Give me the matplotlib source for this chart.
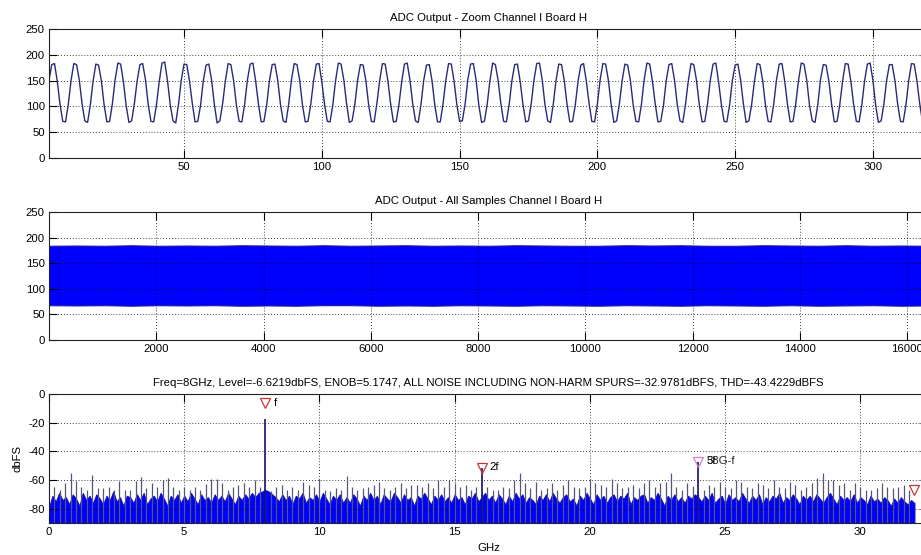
import matplotlib
matplotlib.use("Agg")
import matplotlib.pyplot as plt
import numpy as np

plt.rcParams['font.family'] = ['Liberation Sans', 'DejaVu Sans']
plt.rcParams['font.size'] = 8.2
plt.rcParams['axes.unicode_minus'] = False

# first 320 ADC codes, channel I board H (8 samples per period at 8 GHz / 64 GS/s)
zoom_codes = [
    151, 181, 183, 149, 104, 71, 70, 104,
    150, 183, 181, 151, 105, 72, 69, 103,
    149, 182, 180, 150, 103, 70, 71, 105,
    152, 184, 182, 148, 102, 69, 72, 106,
    150, 181, 183, 152, 104, 71, 70, 103,
    148, 184, 186, 150, 103, 72, 68, 104,
    151, 182, 181, 149, 106, 70, 71, 102,
    150, 180, 182, 151, 104, 68, 72, 105,
    149, 183, 181, 150, 103, 71, 70, 104,
    151, 182, 184, 149, 105, 70, 71, 103,
    150, 181, 182, 151, 104, 72, 69, 105,
    152, 183, 181, 150, 102, 70, 71, 104,
    149, 182, 183, 148, 104, 71, 70, 103,
    150, 184, 182, 151, 105, 69, 72, 104,
    151, 181, 180, 150, 103, 71, 70, 106,
    150, 183, 182, 149, 104, 70, 71, 103,
    148, 182, 184, 151, 105, 72, 69, 104,
    151, 180, 181, 150, 103, 70, 70, 105,
    150, 183, 182, 149, 104, 71, 72, 104,
    152, 182, 183, 151, 102, 69, 71, 103,
    149, 184, 181, 150, 105, 71, 70, 104,
    150, 181, 182, 148, 104, 70, 72, 105,
    151, 183, 184, 151, 103, 72, 69, 104,
    150, 182, 181, 150, 104, 70, 71, 103,
    149, 180, 183, 149, 106, 71, 70, 104,
    151, 183, 182, 151, 104, 69, 72, 105,
    150, 182, 180, 150, 103, 71, 70, 104,
    152, 184, 182, 149, 105, 70, 71, 102,
    150, 181, 183, 151, 104, 72, 69, 104,
    149, 183, 181, 150, 103, 70, 71, 105,
    151, 182, 184, 148, 104, 71, 70, 103,
    150, 180, 182, 151, 105, 69, 72, 104,
    148, 183, 181, 150, 103, 71, 70, 104,
    151, 182, 183, 149, 104, 70, 71, 105,
    150, 184, 182, 151, 102, 72, 69, 103,
    152, 181, 180, 150, 105, 70, 71, 104,
    149, 183, 182, 149, 104, 71, 70, 104,
    150, 182, 184, 151, 103, 69, 72, 105,
    151, 181, 181, 150, 104, 71, 70, 103,
    150, 183, 182, 149, 105, 70, 71, 104,
]

# min / max of all 16384 samples, per 512-sample block
all_hi = [184, 184.5, 184, 185, 184, 184.5, 184, 185, 184.5, 184, 185, 184, 184.5, 185, 184, 184.5, 184,
          185, 184.5, 184, 184, 185, 184.5, 185, 184, 184, 185, 184.5, 184, 185, 184, 184.5, 184]
all_lo = [68, 67.5, 68, 67, 68, 67.5, 68, 67, 67.5, 67, 68, 68, 67, 67.5, 67, 68, 67.5,
          67, 68, 67.5, 67, 68, 67.5, 67, 68, 67.5, 67, 68, 67, 67.5, 68, 67, 67.5]
block_len = 512

# spectrum: noise floor top every 0.125 GHz
floor_step = 0.125
floor_db = [
    -79, -71, -75, -69, -74, -72, -77, -70,
    -73, -78, -69, -74, -71, -76, -70, -73,
    -77, -71, -74, -68, -75, -72, -78, -71,
    -72, -76, -70, -74, -69, -77, -73, -71,
    -75, -69, -73, -78, -71, -74, -70, -76,
    -71, -75, -69, -73, -77, -70, -74, -72,
    -76, -70, -74, -71, -75, -69, -73, -77,
    -71, -74, -70, -73, -69, -72, -69, -68,
    -67, -68, -70, -72, -75, -70, -74, -71,
    -77, -71, -73, -69, -76, -72, -74, -70,
    -75, -69, -73, -77, -71, -74, -70, -76,
    -72, -76, -70, -73, -78, -71, -74, -69,
    -74, -71, -77, -70, -73, -75, -69, -72,
    -76, -70, -74, -72, -78, -71, -73, -69,
    -73, -77, -71, -74, -70, -75, -72, -76,
    -70, -74, -72, -77, -71, -73, -69, -75,
    -72, -69, -74, -71, -76, -70, -73, -77,
    -71, -75, -69, -73, -70, -76, -72, -74,
    -77, -71, -74, -70, -75, -69, -73, -76,
    -72, -70, -75, -73, -78, -71, -74, -69,
    -73, -77, -70, -74, -71, -76, -72, -70,
    -75, -71, -73, -69, -77, -72, -74, -71,
    -70, -76, -72, -74, -69, -73, -78, -71,
    -74, -70, -75, -72, -76, -71, -73, -70,
    -72, -75, -71, -74, -69, -76, -73, -71,
    -77, -70, -74, -72, -75, -69, -73, -76,
    -71, -74, -70, -77, -72, -75, -71, -73,
    -69, -76, -72, -74, -70, -73, -77, -71,
    -74, -71, -75, -70, -73, -76, -72, -69,
    -73, -77, -71, -74, -72, -75, -70, -76,
    -72, -74, -77, -71, -75, -73, -76, -72,
    -74, -78, -73, -76, -72, -75, -77, -74,
    -76,
]
# non-harmonic comb spurs every 0.2 GHz
spur_step = 0.2
spur_db = [
    -64.6, -67, -62.3, -55.3, -61, -64.6, -67, -56.5, -65.7, -65.7,
    -64.6, -67, -61, -67, -67, -61, -57.6, -65.7, -62.3, -64.6,
    -59.9, -58.8, -64.6, -67, -64.6, -67, -64.6, -67, -63, -59.5,
    -59.5, -62.3, -66.9, -64.6, -63.4, -62.3, -64.6, -59.9, -64.6, -70,
    -68, -64.6, -63.4, -66.9, -64.6, -66.9, -61.1, -63.4, -64.6, -59.5,
    -66.9, -68, -65.7, -66.9, -57.1, -64.6, -66.9, -65.7, -64.6, -63.4,
    -61.1, -65.7, -66.9, -64.6, -62.3, -65.7, -63.4, -63.4, -64.6, -62.3,
    -65.7, -59.9, -64.6, -59.9, -62.3, -64.6, -63.4, -66.9, -65, -70,
    -64.6, -66.9, -66.9, -64.6, -65.7, -59.9, -55.3, -62.3, -65.7, -61.1,
    -66.9, -65.7, -62.3, -66.9, -63.4, -59.9, -64.6, -65.7, -64.6, -59.5,
    -62.3, -63.4, -64.6, -59.5, -62.3, -65.7, -64.6, -63.4, -65.7, -62.3,
    -59.9, -64.6, -62.3, -61.1, -55.3, -64.6, -66.9, -62.3, -64, -70,
    -66.9, -63.4, -64.6, -61.1, -64.6, -65.7, -59.9, -61.1, -64.6, -65.7,
    -62.3, -63.4, -65.7, -59.9, -64.6, -65.7, -61.1, -63.4, -66.9, -64.6,
    -62.3, -58.8, -54.8, -59.9, -59.9, -63.4, -62.3, -66.9, -62.3, -64.6,
    -66.9, -66.9, -65.7, -62.3, -64.6, -65.7, -64.6, -63.4, -66.9,
]

# fundamental and harmonics (GHz, peak bin dBFS)
harm_ghz = [8, 16, 24]
harm_db = [-17.6, -51.5, -47.5]

# markers: label, GHz, dBFS, colour
mark_names = ['f', '2f', '3f', '']
mark_ghz = [8, 16, 24, 32]
mark_db = [-6.6219, -51.5, -47.5, -67]
mark_cols = ['#cc3333', '#cc3333', '#d77fd7', '#cc3333']

title_spec = ('Freq=8GHz, Level=-6.6219dbFS, ENOB=5.1747, ALL NOISE INCLUDING '
              'NON-HARM SPURS=-32.9781dBFS, THD=-43.4229dBFS')


def style(ax):
    ax.grid(True, color='k', linestyle=(0, (1, 2.5)), linewidth=0.6)
    ax.tick_params(direction='in', length=6, top=True, right=True, width=0.8,
                   labelsize=8.2, pad=3)
    for s in ax.spines.values():
        s.set_linewidth(0.8)
        s.set_color('#222222')


fig = plt.figure(figsize=(9.21, 5.55), dpi=100)
W = 921.0
H = 555.0
left = 49 / W
width = (928 - 49) / W

# zoomed samples
ax1 = fig.add_axes([left, 1 - 158 / H, width, 129 / H])
n = np.arange(1, len(zoom_codes) + 1)
ax1.plot(n, zoom_codes, color='#2a2a78', linewidth=1.0)
ax1.set_xlim(1, 320)
ax1.set_ylim(0, 250)
ax1.set_xticks([50, 100, 150, 200, 250, 300])
ax1.set_yticks([0, 50, 100, 150, 200, 250])
ax1.set_title('ADC Output - Zoom Channel I Board H', fontsize=8.2, pad=6)
style(ax1)

# all samples
ax2 = fig.add_axes([left, 1 - 340 / H, width, 128 / H])
blk = np.arange(len(all_hi)) * block_len
blk[0] = 1
ax2.fill_between(blk, all_lo, all_hi, color='#0000ff', linewidth=0.8,
                 edgecolor='#1a1a9a')
ax2.set_xlim(1, 16384)
ax2.set_ylim(0, 250)
ax2.set_xticks(np.arange(2000, 16001, 2000))
ax2.set_yticks([0, 50, 100, 150, 200, 250])
ax2.set_title('ADC Output - All Samples Channel I Board H', fontsize=8.2, pad=6)
style(ax2)

# spectrum
ax3 = fig.add_axes([left, 1 - 523 / H, width, 129 / H])
fg = np.arange(len(floor_db)) * floor_step
ax3.fill_between(fg, -95, floor_db, color='#0000ff', linewidth=0.7,
                 edgecolor='#1010c0')
sg = np.arange(1, len(spur_db) + 1) * spur_step
ax3.vlines(sg, -95, spur_db, color='#55557a', linewidth=0.9)
ax3.vlines(harm_ghz, -95, harm_db, color='#101070', linewidth=1.2)
for name, f, d, c in zip(mark_names, mark_ghz, mark_db, mark_cols):
    ax3.plot(f, d, marker='v', markersize=7, markerfacecolor='none',
             markeredgecolor=c, markeredgewidth=0.9, linestyle='none')
    if name:
        ax3.text(f + 0.3, d + 0.5, name, fontsize=8.2, va='center', ha='left')
# the 3f label is overprinted by the 5th-harmonic alias label
ax3.text(24.3, -47.0, '58G-f', fontsize=8.2, va='center', ha='left', color='#222222')
ax3.set_xlim(0, 32.5)
ax3.set_ylim(-90, 0)
ax3.set_xticks([0, 5, 10, 15, 20, 25, 30])
ax3.set_yticks([-80, -60, -40, -20, 0])
ax3.set_title(title_spec, fontsize=8.2, pad=6)
ax3.set_xlabel('GHz', fontsize=8.2, labelpad=4)
ax3.set_ylabel('dbFS', fontsize=8.2, labelpad=4)
style(ax3)

plt.savefig('out.png', dpi=100)
